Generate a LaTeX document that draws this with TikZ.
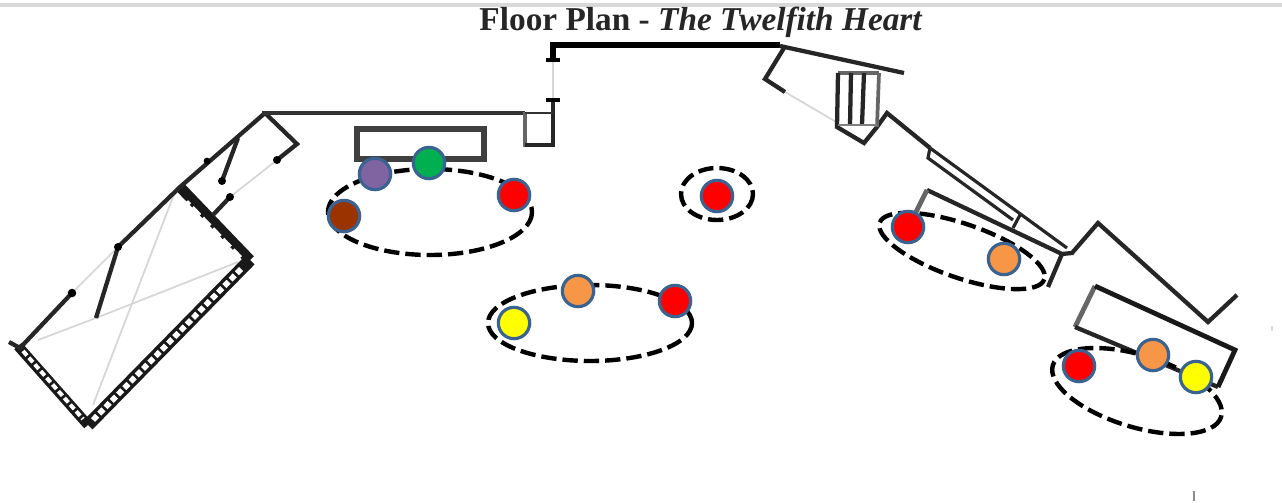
\documentclass[tikz,border=0pt]{standalone}
\usepackage{fontspec}
\setmainfont{Liberation Serif}
\tikzset{
  wallthin/.style={draw=black!85,line width=2.4pt,line join=miter},
  wallmid/.style={draw=black!85,line width=3.2pt,line join=miter},
  wallgray/.style={draw=black!60,line width=3.6pt},
  faint/.style={draw=black!16,line width=1.3pt},
  guest/.style={circle,draw=guestblue,line width=2.4pt,minimum size=23.5pt,inner sep=0pt},
  group/.style={draw=black,line width=3.3pt,dash pattern=on 11.5pt off 4.5pt},
  ladderout/.style={draw=black!90,line width=9.5pt,line join=miter},
  ladderin/.style={draw=white,line width=4.2pt,dash pattern=on 4.5pt off 2.2pt},
}
\definecolor{guestblue}{HTML}{3B6391}
\definecolor{cred}{HTML}{FF0000}
\definecolor{corange}{HTML}{F79646}
\definecolor{cyellow}{HTML}{FFFF00}
\definecolor{cpurple}{HTML}{8064A2}
\definecolor{cgreen}{HTML}{00B050}
\definecolor{cbrown}{HTML}{993300}
\begin{document}
\begin{tikzpicture}[x=0.75pt,y=-0.75pt]
\useasboundingbox (0,0) rectangle (1282,503);
\fill[white] (0,0) rectangle (1282,503);
\draw[draw=black!15,line width=2.4pt] (0,5) -- (1282,5);
\node[anchor=center,inner sep=0pt,font=\fontsize{25pt}{28pt}\selectfont\bfseries,text=black!85] (title) at (701,22) {Floor Plan - \textit{The Twelfith Heart}};
% faint lines (left room)
\draw[faint] (173,197) -- (93,405);
\draw[faint] (38,340) -- (96,318) -- (238,262);
\draw[faint] (118,247) -- (72,293);
\draw[faint] (277,160) -- (230,197);
\draw[faint] (553,60) -- (553,100);
\draw[faint] (785,92) -- (838,123);
% left room
\draw[ladderout,line width=7.5pt] (18,346) -- (88,425);
\draw[ladderout] (88,425) -- (250,260);
\draw[ladderout,line width=8pt] (250,260) -- (180,187);
\draw[ladderin,line width=3pt] (23,351) -- (83,419);
\draw[ladderin] (93,420) -- (243,267);
\draw[draw=white,line width=2pt,dash pattern=on 8pt off 3pt] (241,257) -- (187,201);
\draw[wallmid] (265,113) -- (180,187) -- (118,247);
\draw[wallmid] (72,293) -- (20,348) -- (9,342);
\draw[wallmid] (118,247) -- (96,318);
\draw[wallmid] (238,138) -- (222,181);
\draw[wallmid] (265,113) -- (297,144) -- (277,160);
\draw[wallmid] (230,197) -- (213,215);
\fill (72,293) circle (3.2pt) (118,247) circle (3pt) (222,181) circle (3pt) (230,197) circle (3pt) (277,160) circle (3pt) (207,161) circle (2.5pt);
% top walls
\draw[draw=black!80,line width=2.8pt] (262,113) -- (525,113);
\draw[wallgray] (525,112) -- (525,145) -- (553,145);
\draw[wallmid] (553,100) -- (553,145) -- (525,145);
\draw[draw=black!80,line width=2pt] (525,113) -- (553,113);
\draw[draw=black,line width=4.6pt] (553,62) -- (553,45) -- (780,45);
\draw[draw=black,line width=3pt] (546,60) -- (560,60) (546,100) -- (560,100);
% table
\draw[draw=black!75,line width=4.4pt] (357,129) rectangle (484,159);
% top right
\draw[wallmid] (780,46) -- (904,73);
\draw[wallmid] (784,48) -- (765,79) -- (785,92);
\draw[wallgray,line width=2.6pt] (838,73) -- (879,73);
\draw[wallmid] (838,73) -- (837,127) -- (864,143) -- (877,127) -- (887,113) -- (930,148);
\draw[wallgray,line width=2.8pt] (879,73) -- (877,127);
\draw[wallmid] (851,73) -- (850,125);
\draw[wallmid] (864,73) -- (862,125);
\draw[draw=black!50,line width=1.8pt] (838,125) -- (877,125);
% long window wall
\draw[wallthin] (930,148) -- (1067,248);
\draw[wallthin] (930,148) -- (928,158) -- (1013,220);
\draw[wallthin] (1020,215) -- (1013,228);
\draw[wallmid] (927,190) -- (1062,254) -- (1048,287);
\draw[wallgray] (927,190) -- (916,212);
\draw[wallmid] (1062,254) -- (1072,253) -- (1098,223) -- (1208,322) -- (1237,295);
% lower right counter
\draw[wallgray] (1095,286) -- (1075,327);
\draw[wallmid] (1075,327) -- (1218,387);
\draw[draw=black!90,line width=3.6pt] (1095,286) -- (1235,350) -- (1218,387);
% guest groups
\draw[group] (430,212) ellipse [x radius=102,y radius=43];
\draw[group] (717,194) ellipse [x radius=36,y radius=26];
\draw[group] (590,323) ellipse [x radius=102,y radius=38];
\draw[group,rotate around={-19:(962,251)}] (962,251) ellipse [x radius=87,y radius=27];
\draw[group,rotate around={-17:(1137,391)}] (1137,391) ellipse [x radius=88,y radius=36];
% guests
\node[guest,fill=cpurple] (g1) at (375,174) {};
\node[guest,fill=cgreen] (g2) at (429,163) {};
\node[guest,fill=cbrown] (g3) at (344,216) {};
\node[guest,fill=cred] (g4) at (514,195) {};
\node[guest,fill=cred] (g5) at (717,196) {};
\node[guest,fill=corange] (g6) at (578,291) {};
\node[guest,fill=cred] (g7) at (675,301) {};
\node[guest,fill=cyellow] (g8) at (514,323) {};
\node[guest,fill=cred] (g9) at (908,227) {};
\node[guest,fill=corange] (g10) at (1004,259) {};
\node[guest,fill=cred] (g11) at (1079,366) {};
\node[guest,fill=corange] (g12) at (1153,355) {};
\node[guest,fill=cyellow] (g13) at (1196,377) {};
% stray marks
\draw[draw=black!45,line width=1pt] (1194,491) -- (1194,501);
\fill[black!15] (1271,326) rectangle (1273,331);
\end{tikzpicture}
\end{document}
